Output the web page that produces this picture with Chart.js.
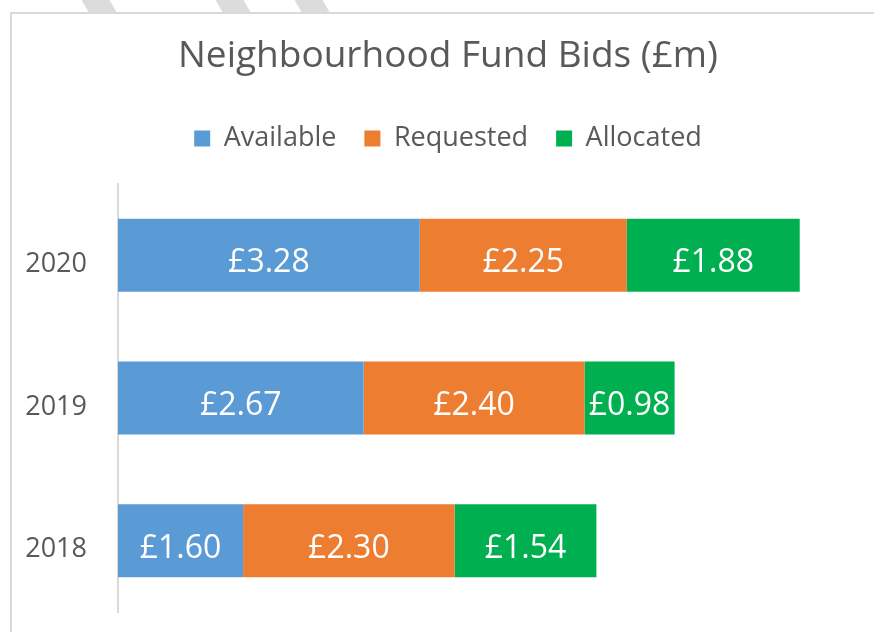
<!DOCTYPE html>
<html>
<head>
<meta charset="utf-8">
<script src="https://cdn.jsdelivr.net/npm/chart.js@4"></script>
<style>
  html, body { margin: 0; padding: 0; background: #ffffff; overflow: hidden; }
  body { width: 874px; height: 632px; position: relative; }
  .stripe { position: absolute; top: 0; height: 12px; width: 28px; background: #dcdcdc; transform: skewX(30deg); }
  #frame { position: absolute; left: 10px; top: 12px; border-left: 2px solid #d9d9d9; border-top: 2px solid #d9d9d9; background: #fff; }
  #frame canvas { display: block; }
</style>
</head>
<body>
<div class="stripe" style="left:85px"></div>
<div class="stripe" style="left:219px"></div>
<div class="stripe" style="left:298px"></div>
<div id="frame"><canvas id="chart" width="872" height="618"></canvas></div>
<script>
// Datos del gráfico
const years = ['2020', '2019', '2018'];
const available = [3.28, 2.67, 1.36];
const requested = [2.25, 2.40, 2.30];
const allocated = [1.88, 0.98, 1.54];
// Etiquetas que aparecen dentro de las barras
const availableText = ['£3.28', '£2.67', '£1.60'];
const requestedText = ['£2.25', '£2.40', '£2.30'];
const allocatedText = ['£1.88', '£0.98', '£1.54'];

const grey = '#595959';
const font = '"Open Sans", "Noto Sans", sans-serif';

// Texto blanco centrado en cada segmento
const barLabels = {
  id: 'barLabels',
  afterDatasetsDraw(chart) {
    const ctx = chart.ctx;
    ctx.save();
    ctx.font = '32px ' + font;
    ctx.fillStyle = '#ffffff';
    ctx.textAlign = 'center';
    ctx.textBaseline = 'alphabetic';
    chart.data.datasets.forEach((ds, i) => {
      chart.getDatasetMeta(i).data.forEach((bar, j) => {
        const p = bar.getProps(['x', 'y', 'base'], true);
        ctx.fillText(ds.valueText[j], (p.x + p.base) / 2, p.y + 17);
      });
    });
    ctx.restore();
  }
};

// Espacio extra debajo de la leyenda
const legendGap = {
  id: 'legendGap',
  beforeInit(chart) {
    const fit = chart.legend.fit;
    chart.legend.fit = function () {
      fit.call(this);
      this.height += 22;
    };
  },
  // los años quedan fuera del eje, no recortarlos
  afterLayout(chart) {
    chart.scales.y.left = 0;
  }
};

new Chart(document.getElementById('chart'), {
  type: 'bar',
  data: {
    labels: years,
    datasets: [
      { label: 'Available', data: available, valueText: availableText, backgroundColor: '#5B9BD5', borderWidth: 0 },
      { label: 'Requested', data: requested, valueText: requestedText, backgroundColor: '#ED7D31', borderWidth: 0 },
      { label: 'Allocated', data: allocated, valueText: allocatedText, backgroundColor: '#00B050', borderWidth: 0 }
    ]
  },
  options: {
    indexAxis: 'y',
    responsive: false,
    animation: false,
    devicePixelRatio: 1,
    categoryPercentage: 1,
    barPercentage: 0.512,
    layout: { padding: { left: 30, right: 30, top: 0, bottom: 20 } },
    plugins: {
      title: {
        display: true,
        text: 'Neighbourhood Fund Bids (£m)',
        color: grey,
        font: { family: font, size: 37, weight: 'normal' },
        padding: { top: 20, bottom: 18.6 }
      },
      legend: {
        display: true,
        position: 'top',
        labels: {
          color: grey,
          font: { family: font, size: 27 },
          boxWidth: 16,
          boxHeight: 16,
          padding: 28
        }
      },
      tooltip: { enabled: false }
    },
    scales: {
      x: { stacked: true, display: false, min: 0, max: 8 },
      y: {
        stacked: true,
        grid: { display: false, drawTicks: false },
        border: { display: true, color: '#d9d9d9', width: 2 },
        ticks: { color: grey, font: { family: font, size: 27 }, padding: 31, labelOffset: 9 },
        afterFit(scale) {
          scale.width = 76;
          scale.paddingTop = 0;
          scale.paddingBottom = 0;
        }
      }
    }
  },
  plugins: [barLabels, legendGap]
});
</script>
</body>
</html>
